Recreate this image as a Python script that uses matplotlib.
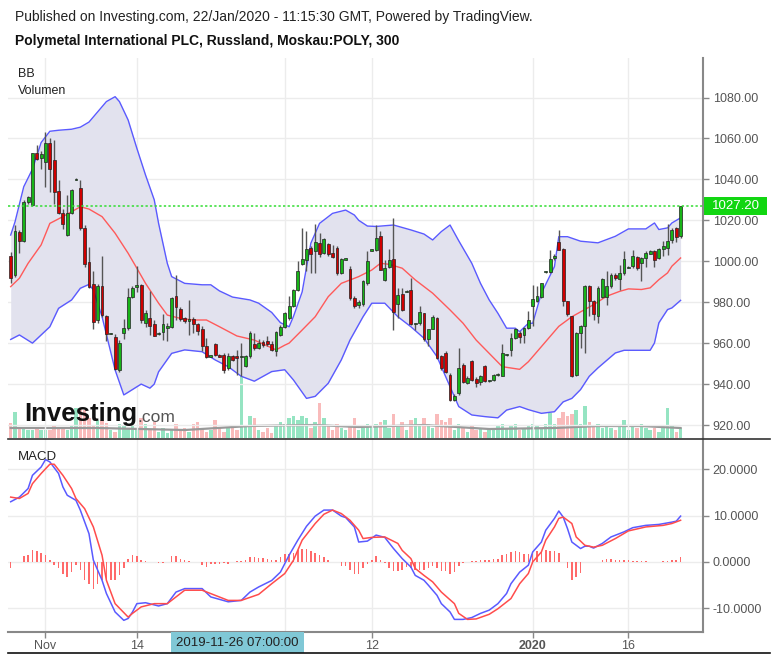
import matplotlib
matplotlib.use('Agg')
import matplotlib.pyplot as plt
import numpy as np
from matplotlib.lines import Line2D
from matplotlib.patches import Rectangle

plt.rcParams['font.family'] = ['Liberation Sans', 'DejaVu Sans']

# ---------------- data ----------------
opens = [1002.7, 993.2, 1014.1, 1009.8, 1028.9, 1027.4, 1052.7, 1050.6, 1048.3, 1058.0,
         1049.7, 1034.4, 1023.8, 1012.8, 1023.4, 1039.8, 1036.0, 1016.4, 999.4, 988.7,
         971.2, 988.0, 973.2, 964.5, 963.1, 947.0, 965.0, 967.4, 982.6, 987.5,
         988.3, 970.0, 972.3, 969.4, 964.5, 965.5, 967.5, 967.9, 982.9, 976.7,
         972.3, 971.0, 972.0, 969.4, 967.0, 958.8, 953.4, 959.6, 954.0, 954.4,
         947.9, 953.9, 953.6, 953.0, 949.0, 953.6, 959.8, 957.7, 960.4, 960.9,
         959.8, 956.0, 964.2, 967.9, 972.3, 978.0, 985.8, 998.9, 1000.5, 1006.5,
         1004.9, 1009.0, 1004.0, 1008.5, 1004.0, 1006.5, 994.3, 1000.8, 996.3, 982.0,
         978.5, 979.3, 989.4, 1005.2, 1005.4, 1012.2, 991.0, 997.2, 1001.1, 979.3,
         984.2, 985.0, 985.8, 969.3, 969.9, 974.8, 962.1, 967.0, 972.3, 953.6,
         955.2, 944.6, 932.4, 935.7, 949.5, 940.6, 951.1, 942.7, 940.9, 948.7,
         941.5, 942.2, 944.4, 944.1, 954.2, 956.8, 962.5, 965.0, 964.2, 967.4,
         978.0, 980.5, 982.6, 994.6, 994.8, 1001.6, 1009.3, 1006.0, 980.5, 973.1,
         944.6, 965.0, 968.6, 987.8, 980.8, 973.1, 982.6, 982.6, 987.8, 993.5,
         991.4, 994.3, 996.8, 997.6, 1002.1, 999.2, 1001.6, 1003.7, 1005.2, 1001.6,
         1006.0, 1006.5, 1010.6, 1016.3, 1012.5]
highs = [1004.6, 1017.7, 1015.2, 1029.9, 1032.0, 1053.0, 1056.7, 1054.0, 1063.3, 1060.0,
         1059.0, 1039.6, 1025.7, 1032.3, 1035.5, 1040.5, 1039.6, 1017.5, 1007.0, 995.2,
         989.0, 1002.7, 973.7, 965.0, 964.7, 961.5, 972.0, 987.0, 987.8, 997.6,
         989.0, 976.0, 985.3, 971.5, 965.5, 974.0, 970.0, 982.6, 993.5, 977.5,
         973.0, 981.0, 973.0, 970.0, 968.2, 962.5, 954.0, 960.0, 954.5, 955.0,
         955.0, 954.3, 956.8, 960.0, 954.0, 965.8, 965.0, 962.0, 961.5, 963.3,
         961.0, 965.8, 969.0, 975.1, 982.9, 986.5, 1000.0, 1016.3, 1014.7, 1007.3,
         1018.4, 1014.0, 1011.4, 1009.0, 1008.1, 1007.3, 1001.6, 1001.6, 997.6, 983.0,
         981.0, 991.0, 1004.9, 1005.8, 1017.9, 1014.7, 1000.8, 1006.0, 1021.2, 987.0,
         987.0, 985.8, 991.9, 970.0, 978.3, 974.8, 962.6, 973.9, 972.8, 954.4,
         956.0, 945.4, 935.0, 957.7, 950.3, 943.8, 951.9, 943.5, 944.6, 949.5,
         942.0, 945.0, 945.4, 959.8, 954.8, 965.0, 967.4, 965.8, 968.0, 975.6,
         988.6, 987.7, 989.4, 995.2, 1005.4, 1003.3, 1015.2, 1006.5, 980.5, 973.1,
         965.3, 969.1, 988.6, 988.6, 981.3, 987.8, 991.9, 995.1, 994.3, 994.3,
         998.4, 1004.9, 997.5, 1005.7, 1002.4, 1002.3, 1004.9, 1005.4, 1005.7, 1006.5,
         1009.8, 1018.0, 1016.3, 1016.8, 1027.2]
lows = [989.2, 992.4, 1003.8, 1009.5, 1028.0, 1027.0, 1049.4, 1045.0, 1036.4, 1034.0,
        1028.0, 1023.3, 1016.0, 1012.3, 1023.0, 1039.5, 1015.2, 997.3, 986.7, 967.0,
        970.0, 973.0, 961.0, 964.3, 947.0, 946.0, 962.0, 966.6, 982.0, 985.0,
        970.0, 968.0, 964.2, 963.4, 964.0, 961.7, 961.0, 967.4, 971.5, 971.0,
        970.0, 964.2, 965.0, 964.0, 956.0, 952.8, 953.0, 953.6, 953.0, 945.4,
        947.0, 951.3, 944.6, 944.0, 948.5, 952.8, 956.8, 957.0, 958.2, 958.5,
        956.0, 953.6, 963.4, 967.4, 971.4, 977.7, 985.3, 998.0, 995.0, 994.3,
        994.3, 1002.1, 1003.3, 1002.6, 1001.4, 993.5, 993.8, 1000.4, 981.3, 977.0,
        977.0, 978.3, 988.6, 1005.0, 1005.0, 995.6, 990.2, 996.5, 966.6, 972.3,
        975.6, 984.8, 969.0, 966.6, 969.1, 961.0, 958.5, 966.7, 952.3, 947.1,
        945.2, 931.6, 931.6, 934.9, 940.3, 939.8, 941.4, 938.5, 939.4, 940.9,
        941.2, 941.4, 943.8, 943.8, 953.9, 953.6, 962.0, 960.1, 960.0, 966.9,
        968.2, 980.0, 982.0, 994.3, 994.3, 1000.8, 1005.4, 978.0, 973.1, 943.5,
        944.1, 957.7, 955.2, 973.1, 971.2, 969.9, 982.1, 978.8, 987.0, 990.9,
        986.2, 993.5, 996.5, 996.8, 995.9, 990.2, 997.2, 1003.3, 997.2, 1001.1,
        1002.4, 1003.0, 1009.0, 1009.6, 1011.5]
closes = [991.9, 1014.9, 1009.8, 1029.1, 1031.2, 1052.7, 1050.2, 1052.2, 1057.9, 1045.0,
          1034.0, 1023.8, 1018.1, 1023.8, 1035.0, 1040.2, 1016.4, 998.6, 987.5, 970.4,
          988.0, 973.7, 964.7, 964.9, 947.6, 960.0, 967.3, 982.6, 987.0, 988.3,
          971.5, 974.8, 968.2, 963.4, 965.0, 969.4, 968.3, 982.0, 977.7, 972.0,
          971.0, 971.8, 969.4, 966.1, 958.5, 953.3, 953.8, 954.4, 953.3, 947.1,
          953.9, 952.0, 952.8, 953.4, 953.6, 965.0, 957.7, 960.1, 959.3, 959.8,
          956.5, 965.5, 967.9, 974.8, 978.3, 985.8, 995.1, 1001.1, 1006.0, 1003.7,
          1009.3, 1003.6, 1011.0, 1003.3, 1002.1, 994.3, 1001.1, 1001.2, 982.1, 978.0,
          980.0, 990.2, 1000.0, 1005.5, 1011.4, 995.9, 996.7, 1000.5, 975.1, 983.7,
          976.4, 985.3, 969.5, 969.7, 975.2, 962.1, 967.0, 972.6, 952.8, 947.9,
          945.8, 932.4, 934.4, 947.9, 940.9, 943.0, 942.2, 940.6, 943.8, 941.4,
          941.8, 944.3, 944.8, 955.2, 954.6, 962.5, 966.9, 963.0, 967.4, 971.2,
          981.6, 982.9, 989.4, 994.9, 1001.1, 1002.8, 1005.7, 980.5, 974.0, 943.8,
          965.0, 968.6, 987.8, 980.5, 974.0, 987.0, 991.4, 987.8, 993.5, 991.9,
          994.3, 1001.1, 997.2, 1002.8, 996.7, 1001.6, 1004.1, 1004.9, 1000.8, 1006.0,
          1007.5, 1009.8, 1015.5, 1011.9, 1027.2]

# volume (thousand shares, rough read)
volume = [15, 26, 10, 10, 8, 8, 10, 8, 8, 8, 12, 10, 10, 8, 12, 30, 30, 28, 20, 12,
          18, 18, 15, 8, 6, 14, 12, 10, 12, 10, 20, 14, 8, 16, 6, 10, 5, 8, 14, 8,
          10, 6, 14, 16, 10, 6, 8, 18, 10, 6, 10, 12, 8, 93, 12, 22, 20, 8, 6, 10,
          5, 12, 16, 14, 20, 22, 18, 22, 20, 10, 16, 35, 20, 12, 8, 14, 10, 8, 12, 20,
          8, 10, 14, 12, 14, 16, 18, 10, 24, 12, 16, 8, 18, 20, 12, 20, 14, 10, 24, 18,
          16, 20, 8, 14, 10, 6, 12, 8, 10, 6, 8, 10, 12, 14, 10, 12, 14, 8, 10, 12,
          14, 12, 10, 14, 25, 14, 20, 26, 22, 24, 28, 14, 32, 16, 12, 14, 10, 12, 10, 8,
          12, 18, 8, 12, 10, 14, 10, 8, 10, 6, 10, 30, 12, 6, 10]
vol_ma_bar = [0, 20, 40, 55, 70, 80, 95, 110, 125, 135, 145, 154]
vol_ma = [10, 10, 8, 12, 13, 11, 13, 9, 10, 12, 12, 10]

# Bollinger bands (bar index, price)
bb_up_bar = [0, 1, 3, 5, 7, 9, 11, 14, 16, 18, 20, 22, 24, 25, 27, 29, 31, 33, 34, 36,
             37, 40, 44, 46, 48, 51, 55, 57, 60, 62, 64, 65, 67, 68, 69, 71, 74, 77, 79, 80,
             82, 84, 88, 92, 95, 97, 99, 101, 103, 106, 108, 110, 112, 114, 116, 117, 119, 120, 122, 125,
             126, 128, 131, 135, 139, 142, 146, 148, 149, 151, 152, 154]
bb_up = [1012.8, 1019.3, 1036.4, 1045.0, 1058.0, 1063.5, 1064.0, 1064.5, 1065.5, 1068.0, 1073.0, 1078.0, 1080.4, 1078.0, 1069.0, 1055.2, 1042.1, 1030.0, 1018.5, 999.0,
         992.5, 989.2, 988.5, 988.5, 985.5, 982.5, 981.1, 979.5, 975.0, 970.0, 968.0, 973.0, 985.0, 997.0, 1008.8, 1018.5, 1023.4, 1025.0, 1022.6, 1020.0,
         1017.2, 1017.0, 1017.7, 1015.3, 1013.3, 1010.4, 1014.5, 1017.7, 1010.0, 999.0, 989.2, 981.1, 974.6, 967.3, 967.3, 965.6, 969.7, 969.7, 984.4, 997.4,
         1012.0, 1012.0, 1009.8, 1009.0, 1012.2, 1015.8, 1015.8, 1018.7, 1015.5, 1016.3, 1018.7, 1021.2]
bb_mid_bar = [0, 2, 4, 7, 9, 12, 14, 16, 18, 21, 24, 27, 29, 31, 34, 36, 39, 42, 45, 48,
              52, 56, 61, 63, 64, 67, 70, 73, 76, 80, 83, 85, 87, 90, 93, 97, 101, 104, 107, 110,
              113, 117, 119, 122, 126, 129, 134, 137, 140, 142, 145, 147, 149, 151, 152, 154]
bb_mid = [987.6, 991.7, 999.0, 1008.0, 1018.5, 1021.8, 1024.2, 1026.6, 1025.5, 1021.8, 1013.7, 1003.9, 996.6, 989.2, 979.5, 973.7, 972.1, 971.3, 971.3, 968.0,
          963.5, 961.5, 956.7, 959.0, 960.0, 966.4, 972.9, 982.7, 989.2, 992.5, 995.7, 999.0, 998.5, 996.6, 990.9, 984.4, 976.2, 969.7, 961.5, 955.0,
          948.5, 947.2, 950.9, 958.3, 968.2, 972.9, 978.8, 982.9, 985.3, 986.5, 986.2, 987.0, 991.0, 994.3, 997.6, 1001.6]
bb_low_bar = [0, 2, 5, 9, 11, 14, 16, 18, 19, 21, 24, 26, 27, 30, 32, 33, 34, 37, 40, 44,
              47, 50, 53, 56, 60, 63, 65, 68, 70, 73, 76, 78, 81, 83, 86, 89, 92, 95, 98, 100,
              103, 106, 109, 112, 114, 117, 119, 122, 125, 127, 129, 131, 133, 135, 139, 141, 147, 148, 149, 151,
              152, 154]
bb_low = [961.8, 964.0, 960.0, 968.0, 977.0, 981.1, 986.8, 988.7, 986.0, 972.9, 946.9, 934.7, 936.0, 940.0, 938.0, 940.0, 946.0, 955.0, 956.7, 955.8,
          951.8, 948.5, 943.8, 941.4, 946.1, 947.0, 942.0, 933.0, 934.0, 940.4, 951.8, 961.5, 972.9, 979.5, 979.5, 972.9, 968.0, 962.4, 953.4, 943.6,
          929.0, 924.9, 924.1, 923.5, 927.3, 929.0, 927.5, 925.7, 926.5, 931.3, 933.0, 937.3, 943.8, 947.9, 955.2, 956.5, 956.5, 960.1, 969.9, 976.4,
          977.2, 980.9]

# MACD (bar index, value)
macd_bar = [0, 2, 4, 5, 7, 8, 9, 11, 12, 13, 15, 16, 18, 19, 21, 22, 24, 26, 27, 28,
            29, 31, 34, 36, 38, 40, 44, 46, 50, 53, 55, 57, 60, 62, 64, 66, 68, 70, 72, 74,
            76, 77, 79, 80, 82, 84, 86, 88, 90, 92, 93, 95, 96, 98, 99, 101, 102, 104, 106, 108,
            110, 112, 114, 115, 117, 119, 120, 122, 123, 125, 126, 127, 128, 129, 131, 132, 133, 134, 136, 138,
            141, 143, 146, 149, 152, 153, 154]
macd = [13.0, 14.0, 15.85, 18.7, 20.5, 22.1, 21.6, 19.1, 16.2, 14.4, 13.3, 11.2, 6.1, 0.4, -3.95, -6.8, -10.8, -12.6, -12.2, -10.8,
        -9.0, -8.8, -9.5, -9.0, -6.5, -5.75, -5.75, -7.55, -8.6, -8.3, -6.5, -5.4, -4.0, -2.2, 1.45, 4.7, 7.7, 9.9, 11.2, 11.2,
        9.9, 9.6, 7.56, 4.3, 4.5, 5.8, 5.3, 2.9, 0.73, -1.1, -2.9, -3.95, -5.0, -7.2, -9.0, -10.8, -12.4, -12.4, -12.0, -11.1,
        -10.4, -9.0, -6.8, -4.7, -2.2, -0.7, 2.16, 4.3, 6.85, 9.4, 11.0, 9.7, 7.2, 4.3, 2.9, 3.4, 3.4, 3.0, 4.0, 5.4,
        6.5, 7.4, 7.9, 8.1, 8.6, 8.8, 9.9]
signal_bar = [0, 2, 4, 5, 7, 9, 10, 12, 14, 15, 17, 19, 21, 22, 24, 27, 28, 30, 33, 36,
              38, 40, 44, 47, 50, 53, 57, 60, 63, 65, 67, 70, 72, 74, 76, 78, 80, 81, 83, 86,
              89, 90, 92, 93, 95, 97, 99, 102, 103, 105, 107, 110, 112, 115, 117, 119, 120, 122, 123, 125,
              126, 127, 129, 130, 132, 134, 136, 139, 142, 146, 150, 152, 154]
signal = [14.0, 13.7, 14.8, 16.9, 19.1, 21.1, 21.1, 18.7, 15.85, 13.7, 11.5, 7.56, 1.45, -3.95, -9.0, -11.9, -11.1, -9.7, -9.0, -9.0,
          -7.55, -6.1, -6.1, -7.2, -8.3, -8.3, -7.0, -4.7, -2.5, 0.37, 4.7, 8.3, 10.3, 11.2, 10.45, 9.0, 6.85, 5.05, 5.3, 5.4,
          4.0, 2.5, 0.73, -1.4, -2.9, -4.3, -6.5, -9.0, -11.1, -12.4, -12.3, -11.3, -10.1, -7.9, -4.7, -2.5, 0.0, 2.16, 4.7, 7.56,
          9.4, 9.7, 8.3, 5.4, 3.6, 3.2, 3.6, 5.05, 6.7, 7.56, 7.9, 8.3, 9.0]
hist = [-1.2, 0, 0, 1.2, 1.4, 2.5, 2.3, 1.9, 1.4, 0.5, -0.7, -1.4, -2.5, -3.2, -2.2, -0.7, -1.8, -4.0, -4.8, -5.8,
        -4.7, -4.0, -3.8, -3.8, -3.8, -2.9, -1.4, 0.7, 1.4, 1.2, 0.5, 0.2, 0, 0, -0.2, -0.2, 0, 1.2, 1.2, 0.7,
        0.4, 0.2, 0, 0, -0.7, -1.1, -0.5, -0.4, -0.4, -0.2, -0.4, 0, 0.2, 0.2, 0.5, 1.1, 1.1, 0.9, 0.9, 0.7,
        0.5, 0.5, 1.1, 1.8, 1.8, 1.9, 2.5, 2.7, 2.7, 2.4, 1.9, 1.4, 1.1, 0.4, 0, 0, -0.9, -0.9, -1.7, -2.5,
        -2.5, -1.4, -0.4, 0.5, 1.2, 0.4, -0.2, -1.4, -1.9, -1.9, -1.8, -1.1, -1.4, -1.8, -1.7, -1.7, -1.4, -0.9, -1.2, -1.9,
        -1.9, -2.5, -2.2, -0.9, -0.2, 0, 0.2, 0.2, 0.4, 0.4, 0.5, 0.6, 0.6, 1.4, 1.8, 2.2, 2.3, 2.2, 1.8, 1.8,
        1.8, 2.3, 2.4, 2.5, 2.4, 2.3, 2.0, 0, -1.4, -3.8, -3.2, -2.4, 0, -0.1, 0, 0, 0.5, 0.7, 0.7, 0.5,
        0.4, 0.5, 0.4, 0.2, 0.15, 0.1, 0.15, 0, 0, 0, 0.15, 0.2, 0.4, 0.5, 1.0]

last_price = 1027.20
price_ticks = [920, 940, 960, 980, 1000, 1020, 1040, 1060, 1080]
macd_ticks = [-10, 0, 10, 20]
date_tick_bars = [8, 29, 63, 83, 120, 142]
date_tick_labels = ['Nov', '14', '', '12', '2020', '16']
cursor_bar = 52
cursor_label = '2019-11-26 07:00:00'

# ---------------- figure ----------------
W, H = 776, 659
fig = plt.figure(figsize=(W / 100, H / 100), dpi=100)
fig.patch.set_facecolor('white')


def fx(x):
    return x / W


def fy(y):
    return 1 - y / H


L, R = 8, 703
ax = fig.add_axes([fx(L), fy(438), fx(R) - fx(L), fy(58) - fy(438)])
axv = ax.twinx()
ax.set_zorder(axv.get_zorder() + 1)
ax.patch.set_visible(False)
axm = fig.add_axes([fx(L), fy(632), fx(R) - fx(L), fy(438) - fy(632)])

n = len(closes)
xs = np.arange(n)
xlim = (-0.62, 159.15)
GRID = '#ececec'
TXT = '#555555'

# --- volume ---
vcols = ['#8fe3bf' if c >= o else '#f9b8b8' for o, c in zip(opens, closes)]
axv.bar(xs, volume, width=0.8, color=vcols, edgecolor='none', alpha=0.95)
axv.plot(vol_ma_bar, vol_ma, color='#999999', lw=1.6)
axv.set_ylim(0, 380)
axv.set_xlim(*xlim)
axv.axis('off')

# --- price grid ---
for p in price_ticks:
    ax.axhline(p, color=GRID, lw=1, zorder=0)
for b in date_tick_bars:
    ax.axvline(b, color=GRID, lw=1, zorder=0)

# --- Bollinger ---
bx = np.linspace(0, n - 1, 300)
up_i = np.interp(bx, bb_up_bar, bb_up)
lo_i = np.interp(bx, bb_low_bar, bb_low)
ax.fill_between(bx, lo_i, up_i, color='#e2e2ee', lw=0, zorder=1)
ax.plot(bb_up_bar, bb_up, color='#5a5aff', lw=1, zorder=2)
ax.plot(bb_low_bar, bb_low, color='#5a5aff', lw=1, zorder=2)
ax.plot(bb_mid_bar, bb_mid, color='#ff5a5a', lw=1, zorder=2)

# --- candles ---
ax.vlines(xs, lows, highs, color='#555555', lw=1, zorder=3)
for i in range(n):
    o, c = opens[i], closes[i]
    col = '#18b418' if c >= o else '#d00000'
    bot = min(o, c)
    h = max(abs(c - o), 0.6)
    ax.add_patch(Rectangle((i - 0.33, bot), 0.66, h, facecolor=col,
                           edgecolor='#222222', lw=0.5, zorder=4))

# last price line
ax.axhline(last_price, color='#33dd33', lw=1.1, ls=(0, (1.5, 1.5)), zorder=5)

ax.set_xlim(*xlim)
ax.set_ylim(913.65, 1099.3)
ax.yaxis.tick_right()
ax.set_yticks(price_ticks)
ax.set_yticklabels([f'{p:.2f}' for p in price_ticks], fontsize=9, color=TXT)
ax.tick_params(axis='y', length=4, width=1, color='#888888', pad=3)
ax.tick_params(axis='x', length=0, labelbottom=False)
for s in ['left', 'top', 'bottom']:
    ax.spines[s].set_visible(False)
ax.spines['right'].set_color('#888888')
ax.spines['right'].set_linewidth(1.5)

# --- MACD panel ---
for v in macd_ticks:
    axm.axhline(v, color=GRID, lw=1, zorder=0)
for b in date_tick_bars:
    axm.axvline(b, color=GRID, lw=1, zorder=0)
axm.bar(xs, hist, width=0.35, color='#ff6a6a', edgecolor='none', zorder=2)
axm.plot(macd_bar, macd, color='#5a5aff', lw=1.1, zorder=3)
axm.plot(signal_bar, signal, color='#ff4c4c', lw=1.1, zorder=3)
axm.set_xlim(*xlim)
axm.set_ylim(-15.12, 26.76)
axm.yaxis.tick_right()
axm.set_yticks(macd_ticks)
axm.set_yticklabels([f'{v:.4f}' for v in macd_ticks], fontsize=9, color=TXT)
axm.tick_params(axis='y', length=4, width=1, color='#888888', pad=3)
axm.set_xticks(date_tick_bars + [cursor_bar])
axm.set_xticklabels(date_tick_labels + [''], fontsize=9, color=TXT)
axm.tick_params(axis='x', length=4, width=1, color='#888888', pad=1.5)
for lbl in axm.get_xticklabels():
    if lbl.get_text() == '2020':
        lbl.set_fontweight('bold')
for s in ['left', 'top']:
    axm.spines[s].set_visible(False)
for s in ['right', 'bottom']:
    axm.spines[s].set_color('#888888')
    axm.spines[s].set_linewidth(1.5)

# --- separators ---
fig.add_artist(Line2D([fx(8), fx(770)], [fy(438.5), fy(438.5)], color='#333333', lw=1.2))
fig.add_artist(Line2D([fx(8), fx(770)], [fy(653), fy(653)], color='#111111', lw=1.2))

# --- cursor label on time axis ---
fig.add_artist(Rectangle((fx(170.5), fy(653)), fx(304) - fx(170.5), fy(632) - fy(653),
                         facecolor='#80c8d6', edgecolor='none', transform=fig.transFigure))
fig.text(fx(237.5), fy(643), cursor_label, ha='center', va='center', fontsize=9.5, color='#222222')

# --- last price tag ---
fig.add_artist(Rectangle((fx(704), fy(214.5)), fx(767) - fx(704), fy(197) - fy(214.5),
                         facecolor='#11d611', edgecolor='none', transform=fig.transFigure))
fig.text(fx(735.5), fy(205.8), f'{last_price:.2f}', ha='center', va='center', fontsize=9.5, color='white')

# --- titles & labels ---
fig.text(fx(15), fy(21.5), 'Published on Investing.com, 22/Jan/2020 - 11:15:30 GMT, Powered by TradingView.',
         fontsize=10, color='#222222', va='baseline')
fig.text(fx(15), fy(45), 'Polymetal International PLC, Russland, Moskau:POLY, 300',
         fontsize=10, fontweight='bold', color='#111111', va='baseline')
fig.text(fx(18), fy(77), 'BB', fontsize=9, color='#222222', va='baseline')
fig.text(fx(18), fy(94.5), 'Volumen', fontsize=9, color='#222222', va='baseline')
fig.text(fx(18), fy(460), 'MACD', fontsize=9.5, color='#222222', va='baseline')

# --- watermark ---
wm = fig.text(fx(24), fy(421.5), 'Investing', fontsize=18.5, fontweight='bold', color='#111111', va='baseline')
renderer = fig.canvas.get_renderer()
bb = wm.get_window_extent(renderer=renderer)
fig.text(bb.x1 / W + 0.5 / W, fy(421.5), '.com', fontsize=12.5, color='#555555', va='baseline')

fig.savefig('out.png', dpi=100)
